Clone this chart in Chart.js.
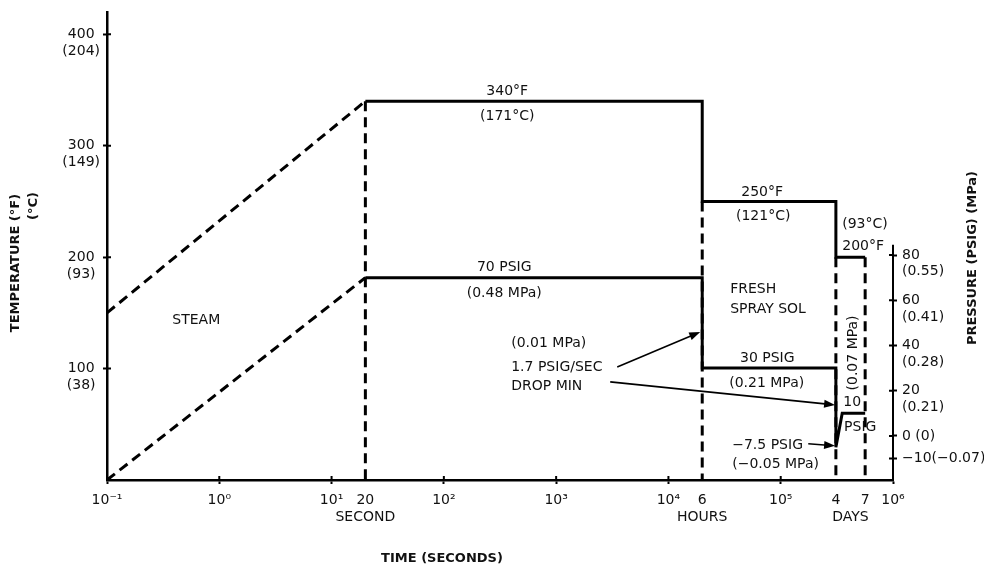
<!DOCTYPE html>
<html>
<head>
<title>Temperature / pressure cycle</title>
<script src="https://cdn.jsdelivr.net/npm/chart.js@4.4.1/dist/chart.umd.min.js"></script>
<style>
  html, body { margin: 0; padding: 0; background: #fff; }
  #chart { display: block; }
</style>
</head>
<body>
<canvas id="chart" width="984" height="569"></canvas>
<script>
// solid step lines (time in seconds, log axis)
const tempTimes   = [20, 20000, 20000, 310000, 310000, 565000];
const tempValues  = [340, 340, 250, 250, 200, 200];          // deg F
const pressTimes  = [20, 20000, 20000, 310000, 310000, 353000, 565000];
const pressValues = [70, 70, 30, 30, -5, 10, 10];            // PSIG

// dashed heat-up ramps
const tempRampTimes   = [0.1, 20];
const tempRampValues  = [150, 340];
const pressRampTimes  = [0.1, 20];
const pressRampValues = [-19.5, 70];

// dashed phase markers, from the temperature line down to the axis
const markerTimes = [20, 20000, 310000, 565000];
const markerTops  = [340, 250, 200, 200];

// ticks
const xTickValues = [0.1, 1, 10, 20, 100, 1000, 10000, 20000, 100000, 310000, 418500, 565000, 1000000];
const xTickLabels = [['10⁻¹'], ['10⁰'], ['10¹'], ['20', 'SECOND'], ['10²'], ['10³'], ['10⁴'],
                     ['6', 'HOURS'], ['10⁵'], ['4'], ['', 'DAYS'], ['7'], ['10⁶']];
const tempTicks  = [100, 200, 300, 400];
const tempTickC  = ['(38)', '(93)', '(149)', '(204)'];
const pressTicks = [-10, 0, 20, 40, 60, 80];
const pressTickLabels = [['−10(−0.07)'], ['0 (0)'], ['', '20', '(0.21)'], ['', '40', '(0.28)'],
                         ['', '60', '(0.41)'], ['', '80', '(0.55)']];

// arrows: time, pressure
const arrowFromT = [3500, 3030, 176000];
const arrowFromP = [30.5, 23.9, -3.5];
const arrowToT   = [19200, 305000, 305000];
const arrowToP   = [46, 13.7, -4.4];

// text notes: [text, time, value, axis, align, rotated]
const notes = [
  ['340°F', 367, 349, 'yT', 'center'],
  ['(171°C)', 367, 326, 'yT', 'center'],
  ['250°F', 68400, 258, 'yT', 'center'],
  ['(121°C)', 69800, 237, 'yT', 'center'],
  ['(93°C)', 353000, 229, 'yT', 'left'],
  ['200°F', 353000, 210, 'yT', 'left'],
  ['STEAM', 0.624, 143.5, 'yT', 'center'],
  ['FRESH', 35500, 171, 'yT', 'left'],
  ['SPRAY SOL', 35500, 153, 'yT', 'left'],
  ['70 PSIG', 345, 74.7, 'yP', 'center'],
  ['(0.48 MPa)', 345, 63.2, 'yP', 'center'],
  ['30 PSIG', 75900, 34.5, 'yP', 'center'],
  ['(0.21 MPa)', 75000, 23.4, 'yP', 'center'],
  ['(0.01 MPa)', 398, 41.1, 'yP', 'left'],
  ['1.7 PSIG/SEC', 398, 30.5, 'yP', 'left'],
  ['DROP MIN', 398, 22.1, 'yP', 'left'],
  ['(0.07 MPa)', 442000, 36.7, 'yP', 'center', true],
  ['10', 433000, 15.0, 'yP', 'center'],
  ['PSIG', 511000, 4.0, 'yP', 'center'],
  ['−7.5 PSIG', 37000, -4.0, 'yP', 'left'],
  ['(−0.05 MPa)', 37000, -12.4, 'yP', 'left']
];

const FONT = '"DejaVu Sans", Verdana, sans-serif';
const INK = '#111';
Chart.defaults.font.family = FONT;
Chart.defaults.font.size = 14;
Chart.defaults.color = INK;

const pts = (xs, ys) => xs.map((x, i) => ({ x: x, y: ys[i] }));
const solid = {
  borderColor: '#000', borderWidth: 3, pointRadius: 0, showLine: true, fill: false,
  tension: 0, borderJoinStyle: 'miter', borderCapStyle: 'butt', order: 1
};
const dashed = Object.assign({}, solid, { borderDash: [10, 6], order: 2 });

const datasets = [
  Object.assign({}, solid, { data: pts(tempTimes, tempValues), yAxisID: 'yT' }),
  Object.assign({}, solid, { data: pts(pressTimes, pressValues), yAxisID: 'yP' }),
  Object.assign({}, dashed, { data: pts(tempRampTimes, tempRampValues), yAxisID: 'yT' }),
  Object.assign({}, dashed, { data: pts(pressRampTimes, pressRampValues), yAxisID: 'yP' })
];
markerTimes.forEach((t, i) => {
  datasets.push(Object.assign({}, dashed, {
    data: [{ x: t, y: markerTops[i] }, { x: t, y: 0 }], yAxisID: 'yT'
  }));
});

const isDecade = v => Math.abs(Math.log10(v) - Math.round(Math.log10(v))) < 1e-9;

// extra drawing: inner half of the cross ticks, short right axis, arrows, notes, titles
const extras = {
  id: 'extras',
  afterDraw(chart) {
    const ctx = chart.ctx;
    const x = chart.scales.x, yT = chart.scales.yT, yP = chart.scales.yP;
    const area = chart.chartArea;
    ctx.save();
    ctx.strokeStyle = '#000';
    ctx.fillStyle = '#000';

    // right axis line only covers the pressure range
    ctx.lineWidth = 2;
    ctx.beginPath();
    ctx.moveTo(yP.left, yP.getPixelForValue(84.5));
    ctx.lineTo(yP.left, area.bottom + 1);
    ctx.stroke();

    ctx.lineWidth = 2;
    ctx.beginPath();
    xTickValues.filter(isDecade).forEach(v => {
      const px = x.getPixelForValue(v);
      ctx.moveTo(px, area.bottom); ctx.lineTo(px, area.bottom - 4);
    });
    tempTicks.forEach(v => {
      const py = yT.getPixelForValue(v);
      ctx.moveTo(area.left, py); ctx.lineTo(area.left + 4, py);
    });
    pressTicks.forEach(v => {
      const py = yP.getPixelForValue(v);
      ctx.moveTo(yP.left, py); ctx.lineTo(yP.left - 4, py);
    });
    ctx.stroke();

    // arrows
    ctx.lineWidth = 1.6;
    arrowFromT.forEach((t, i) => {
      const x1 = x.getPixelForValue(t), y1 = yP.getPixelForValue(arrowFromP[i]);
      const x2 = x.getPixelForValue(arrowToT[i]), y2 = yP.getPixelForValue(arrowToP[i]);
      const a = Math.atan2(y2 - y1, x2 - x1), L = 11, W = 4;
      const c = Math.cos(a), s = Math.sin(a);
      ctx.beginPath();
      ctx.moveTo(x1, y1);
      ctx.lineTo(x2 - L * 0.7 * c, y2 - L * 0.7 * s);
      ctx.stroke();
      ctx.beginPath();
      ctx.moveTo(x2, y2);
      ctx.lineTo(x2 - L * c + W * s, y2 - L * s - W * c);
      ctx.lineTo(x2 - L * c - W * s, y2 - L * s + W * c);
      ctx.closePath();
      ctx.fill();
    });

    // notes
    ctx.fillStyle = INK;
    ctx.font = '14px ' + FONT;
    ctx.textBaseline = 'middle';
    notes.forEach(n => {
      const px = x.getPixelForValue(n[1]);
      const py = chart.scales[n[3]].getPixelForValue(n[2]);
      ctx.save();
      ctx.translate(px, py);
      if (n[5]) ctx.rotate(-Math.PI / 2);
      ctx.textAlign = n[4];
      ctx.fillText(n[0], 0, 0);
      ctx.restore();
    });

    // axis titles
    ctx.font = 'bold 13px ' + FONT;
    ctx.textAlign = 'center';
    ctx.fillText('TIME (SECONDS)', 442, 559);

    ctx.save();
    ctx.translate(16, 263);
    ctx.rotate(-Math.PI / 2);
    ctx.fillText('TEMPERATURE (°F)', 0, 0);
    ctx.restore();
    ctx.save();
    ctx.translate(34, 192);
    ctx.rotate(-Math.PI / 2);
    ctx.textAlign = 'right';
    ctx.fillText('(°C)', 0, 0);
    ctx.restore();

    ctx.save();
    ctx.translate(973, 258);
    ctx.rotate(-Math.PI / 2);
    ctx.fillText('PRESSURE (PSIG) (MPa)', 0, 0);
    ctx.restore();

    ctx.restore();
  }
};

new Chart(document.getElementById('chart').getContext('2d'), {
  type: 'scatter',
  data: { datasets: datasets },
  options: {
    responsive: false,
    animation: false,
    events: [],
    layout: { padding: { top: 12, left: 0, right: 0, bottom: 0 }, autoPadding: false },
    plugins: { legend: { display: false }, tooltip: { enabled: false } },
    scales: {
      x: {
        type: 'logarithmic', position: 'bottom', min: 0.1, max: 1e6,
        afterBuildTicks: s => { s.ticks = xTickValues.map(v => ({ value: v })); },
        afterFit: s => { s.height = 89; s.paddingLeft = 0; s.paddingRight = 0; },
        ticks: {
          autoSkip: false, maxRotation: 0, minRotation: 0, padding: 8,
          callback: (v, i) => xTickLabels[i]
        },
        grid: {
          drawOnChartArea: false, tickLength: 4, tickWidth: 2,
          color: c => (c.tick && isDecade(c.tick.value)) ? '#000' : 'rgba(0,0,0,0)'
        },
        border: { color: '#000', width: 2.5 }
      },
      yT: {
        type: 'linear', position: 'left', min: 0, max: 420,
        afterBuildTicks: s => { s.ticks = tempTicks.map(v => ({ value: v })); },
        afterFit: s => { s.width = 107; s.paddingTop = 0; s.paddingBottom = 0; },
        ticks: {
          crossAlign: 'center', padding: 3,
          callback: (v, i) => ['', String(tempTicks[i]), tempTickC[i]]
        },
        grid: { drawOnChartArea: false, tickLength: 4, tickWidth: 2, color: '#000' },
        border: { color: '#000', width: 2.5 }
      },
      yP: {
        type: 'linear', position: 'right', min: -19.5, max: 187.5,
        afterBuildTicks: s => { s.ticks = pressTicks.map(v => ({ value: v })); },
        afterFit: s => { s.width = 91; s.paddingTop = 0; s.paddingBottom = 0; },
        ticks: {
          padding: 5,
          callback: (v, i) => pressTickLabels[i]
        },
        grid: { drawOnChartArea: false, tickLength: 4, tickWidth: 2, color: '#000' },
        border: { display: false }
      }
    }
  },
  plugins: [extras]
});
</script>
</body>
</html>
